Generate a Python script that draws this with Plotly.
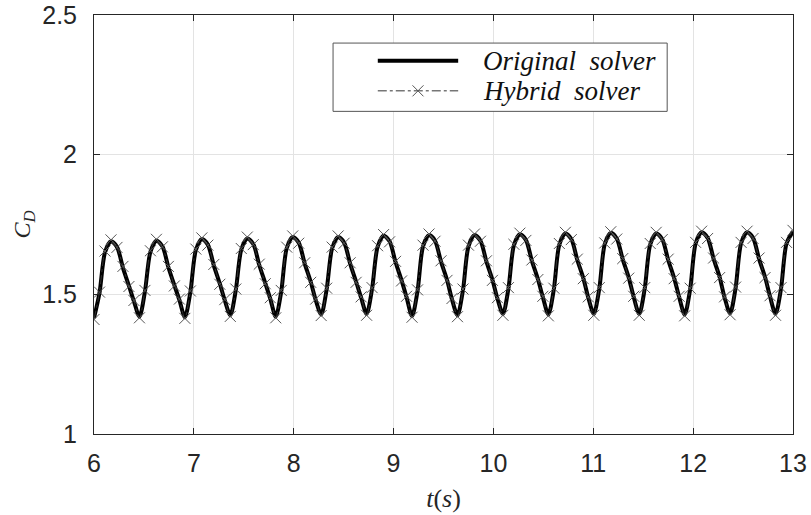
import plotly.graph_objects as go

# time stamps (s) of the sampled points
t = [
    6.000, 6.055, 6.110, 6.170, 6.230, 6.290, 6.350, 6.400,
    6.455, 6.510, 6.565, 6.625, 6.685, 6.745, 6.805, 6.855,
    6.910, 6.965, 7.020, 7.080, 7.140, 7.200, 7.260, 7.310,
    7.365, 7.420, 7.475, 7.535, 7.595, 7.655, 7.715, 7.765,
    7.820, 7.875, 7.930, 7.990, 8.050, 8.110, 8.170, 8.220,
    8.275, 8.330, 8.385, 8.445, 8.505, 8.565, 8.625, 8.675,
    8.730, 8.785, 8.840, 8.900, 8.960, 9.020, 9.080, 9.130,
    9.185, 9.240, 9.295, 9.355, 9.415, 9.475, 9.535, 9.585,
    9.640, 9.695, 9.750, 9.810, 9.870, 9.930, 9.990, 10.040,
    10.095, 10.150, 10.205, 10.265, 10.325, 10.385, 10.445, 10.495,
    10.550, 10.605, 10.660, 10.720, 10.780, 10.840, 10.900, 10.950,
    11.005, 11.060, 11.115, 11.175, 11.235, 11.295, 11.355, 11.405,
    11.460, 11.515, 11.570, 11.630, 11.690, 11.750, 11.810, 11.860,
    11.915, 11.970, 12.025, 12.085, 12.145, 12.205, 12.265, 12.315,
    12.370, 12.425, 12.480, 12.540, 12.600, 12.660, 12.720, 12.770,
    12.825, 12.880, 12.935, 13.000,
]

cd_original = [
    1.415, 1.505, 1.650, 1.690, 1.670, 1.595, 1.530, 1.475,
    1.420, 1.510, 1.652, 1.692, 1.672, 1.597, 1.532, 1.480,
    1.418, 1.508, 1.658, 1.698, 1.678, 1.603, 1.538, 1.478,
    1.425, 1.515, 1.660, 1.700, 1.680, 1.605, 1.540, 1.485,
    1.420, 1.510, 1.665, 1.705, 1.685, 1.610, 1.545, 1.480,
    1.428, 1.518, 1.665, 1.705, 1.685, 1.610, 1.545, 1.488,
    1.430, 1.520, 1.670, 1.710, 1.690, 1.615, 1.550, 1.490,
    1.422, 1.512, 1.672, 1.712, 1.692, 1.617, 1.552, 1.482,
    1.425, 1.515, 1.672, 1.712, 1.692, 1.617, 1.552, 1.485,
    1.430, 1.520, 1.675, 1.715, 1.695, 1.620, 1.555, 1.490,
    1.428, 1.518, 1.678, 1.718, 1.698, 1.623, 1.558, 1.488,
    1.430, 1.520, 1.680, 1.720, 1.700, 1.625, 1.560, 1.490,
    1.430, 1.520, 1.678, 1.718, 1.698, 1.623, 1.558, 1.490,
    1.428, 1.518, 1.682, 1.722, 1.702, 1.627, 1.562, 1.488,
    1.432, 1.522, 1.682, 1.722, 1.702, 1.627, 1.562, 1.492,
    1.430, 1.520, 1.682, 1.725,
]

cd_hybrid = [
    1.410, 1.508, 1.655, 1.695, 1.668, 1.600, 1.528, 1.478,
    1.416, 1.514, 1.656, 1.697, 1.670, 1.600, 1.530, 1.483,
    1.414, 1.512, 1.662, 1.702, 1.676, 1.607, 1.536, 1.481,
    1.421, 1.519, 1.664, 1.705, 1.678, 1.608, 1.538, 1.488,
    1.416, 1.514, 1.669, 1.709, 1.683, 1.613, 1.543, 1.483,
    1.424, 1.522, 1.669, 1.709, 1.683, 1.613, 1.543, 1.491,
    1.425, 1.524, 1.674, 1.714, 1.688, 1.618, 1.548, 1.493,
    1.418, 1.516, 1.676, 1.716, 1.690, 1.620, 1.550, 1.485,
    1.420, 1.519, 1.676, 1.716, 1.690, 1.620, 1.550, 1.488,
    1.425, 1.524, 1.679, 1.719, 1.693, 1.623, 1.553, 1.493,
    1.423, 1.522, 1.682, 1.722, 1.696, 1.626, 1.556, 1.491,
    1.425, 1.524, 1.684, 1.724, 1.698, 1.628, 1.558, 1.493,
    1.425, 1.524, 1.682, 1.722, 1.696, 1.626, 1.556, 1.493,
    1.423, 1.522, 1.686, 1.726, 1.700, 1.630, 1.560, 1.491,
    1.427, 1.526, 1.686, 1.726, 1.700, 1.630, 1.560, 1.495,
    1.425, 1.524, 1.686, 1.729,
]

series_names = ["Original", "Hybrid"]
x_ticks = [6, 7, 8, 9, 10, 11, 12, 13]
y_ticks = [1, 1.5, 2, 2.5]
y_tick_text = ["1", "1.5", "2", "2.5"]

axis_color = "#262626"
grid_color = "#e3e3e3"
serif = "Liberation Serif, DejaVu Serif, serif"
sans = "Liberation Sans, Arial, sans-serif"
nb = "\u2002"
marker_color = "#555555"

fig = go.Figure()
fig.add_trace(go.Scatter(
    x=t, y=cd_original, mode="lines",
    name=series_names[0] + " solver", showlegend=False,
    line=dict(color="black", width=4, shape="spline", smoothing=0.8),
))
fig.add_trace(go.Scatter(
    x=t, y=cd_hybrid, mode="lines+markers",
    name=series_names[1] + " solver", showlegend=False,
    line=dict(color="#333333", width=1, dash="dashdot", shape="spline", smoothing=0.8),
    marker=dict(symbol="x-thin", size=11, line=dict(color=marker_color, width=1)),
))

# ---- legend box drawn in paper coordinates ----
L0, L1, T0, T1 = 0.342, 0.820, 0.770, 0.933
line_x0, line_x1 = 0.406, 0.521
row_y = [0.891, 0.819]
text_x = 0.553
shapes = [
    dict(type="rect", xref="paper", yref="paper", x0=L0, x1=L1, y0=T0, y1=T1,
         line=dict(color="#555555", width=1), fillcolor="white", layer="above"),
    dict(type="line", xref="paper", yref="paper", x0=line_x0, x1=line_x1, y0=row_y[0], y1=row_y[0],
         line=dict(color="black", width=4), layer="above"),
    dict(type="line", xref="paper", yref="paper", x0=line_x0, x1=line_x1, y0=row_y[1], y1=row_y[1],
         line=dict(color="#333333", width=1, dash="dashdot"), layer="above"),
]
# the "x" marker of the hybrid row (two short strokes, ~11 px)
mx = (line_x0 + line_x1) / 2
dx, dy = 5.5 / 699, 5.5 / 418
shapes += [
    dict(type="line", xref="paper", yref="paper", x0=mx - dx, x1=mx + dx, y0=row_y[1] - dy, y1=row_y[1] + dy,
         line=dict(color=marker_color, width=1), layer="above"),
    dict(type="line", xref="paper", yref="paper", x0=mx - dx, x1=mx + dx, y0=row_y[1] + dy, y1=row_y[1] - dy,
         line=dict(color=marker_color, width=1), layer="above"),
]
annotations = [
    dict(xref="paper", yref="paper", x=text_x, y=row_y[i], xanchor="left", yanchor="middle",
         text="<i>" + series_names[i] + nb + "solver</i>", showarrow=False,
         font=dict(family=serif, size=27, color="#111111"))
    for i in range(2)
]

fig.update_layout(
    width=811, height=515,
    margin=dict(l=94, r=18, t=15, b=81),
    paper_bgcolor="white", plot_bgcolor="white",
    showlegend=False,
    shapes=shapes, annotations=annotations,
    xaxis=dict(
        range=[6, 13], tickvals=x_ticks, ticktext=[str(v) for v in x_ticks],
        showgrid=True, gridcolor=grid_color, gridwidth=1,
        showline=True, linecolor=axis_color, linewidth=1, mirror="ticks",
        ticks="inside", ticklen=6, tickcolor=axis_color,
        tickfont=dict(family=sans, size=25, color=axis_color),
        ticklabelstandoff=7,
        title=dict(text="<i>t</i>(<i>s</i>)", font=dict(family=serif, size=26, color=axis_color), standoff=12),
        zeroline=False, automargin=False,
    ),
    yaxis=dict(
        range=[1, 2.5], tickvals=y_ticks, ticktext=y_tick_text,
        showgrid=True, gridcolor=grid_color, gridwidth=1,
        showline=True, linecolor=axis_color, linewidth=1, mirror="ticks",
        ticks="inside", ticklen=6, tickcolor=axis_color,
        tickfont=dict(family=sans, size=25, color=axis_color),
        ticklabelstandoff=11,
        title=dict(text="<i>C<sub>D</sub></i>", font=dict(family=serif, size=24, color=axis_color), standoff=4),
        zeroline=False, automargin=False,
    ),
)

fig.write_html("out.html", config={"displayModeBar": False},
               post_script="document.body.style.margin='0';")
